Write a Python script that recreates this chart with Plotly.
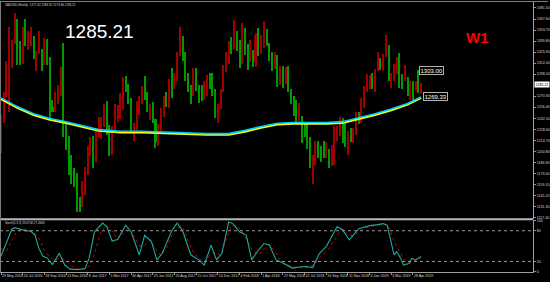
import plotly.graph_objects as go

# ---------------- data ----------------
# weekly bars, index 0 = week of 29 May 2016 ... 155 = week of 19 May 2019
opens = [1216,1243,1275,1298,1322,1340,1366,1327,1323,1351,1335,1336,1341,1321,1327,1328,1310,1337,1316,1257,
         1251,1266,1276,1304,1225,1208,1180,1177,1160,1134,1133,1151,1173,1196,1209,1191,1220,1234,1238,1257,
         1226,1203,1229,1243,1249,1254,1288,1284,1268,1228,1228,1254,1268,1280,1267,1254,1256,1242,1213,1228,
         1255,1269,1258,1289,1285,1292,1325,1346,1320,1297,1280,1274,1304,1280,1272,1269,1275,1295,1288,1280,
         1248,1256,1278,1303,1322,1338,1331,1349,1333,1315,1353,1330,1323,1323,1313,1347,1325,1332,1345,1335,
         1323,1315,1320,1291,1301,1294,1298,1279,1269,1253,1241,1241,1231,1223,1214,1184,1184,1206,1201,1196,
         1194,1200,1191,1203,1219,1227,1234,1233,1209,1223,1222,1222,1248,1238,1257,1280,1287,1290,1282,1303,
         1318,1314,1322,1329,1293,1298,1302,1313,1292,1291,1291,1275,1286,1281,1286,1277]
highs = [1247,1276,1315,1358,1341,1375,1368,1340,1357,1367,1352,1358,1346,1327,1352,1330,1344,1343,1320,1266,
         1275,1284,1307,1338,1236,1220,1196,1180,1174,1143,1163,1181,1207,1219,1220,1226,1244,1244,1260,1264,
         1234,1233,1261,1259,1274,1295,1296,1286,1268,1236,1264,1271,1283,1296,1275,1260,1263,1242,1235,1256,
         1270,1275,1292,1306,1300,1326,1358,1339,1326,1300,1284,1306,1306,1284,1284,1290,1297,1299,1300,1280,
         1260,1279,1310,1326,1340,1345,1366,1353,1341,1362,1356,1336,1341,1329,1350,1356,1347,1365,1355,1338,
         1326,1326,1322,1308,1308,1307,1309,1280,1271,1265,1262,1245,1236,1236,1219,1196,1214,1214,1207,1214,
         1212,1204,1209,1233,1233,1244,1243,1237,1226,1230,1230,1250,1251,1268,1283,1298,1297,1299,1305,1326,
         1319,1324,1347,1335,1300,1311,1320,1325,1298,1310,1294,1289,1289,1290,1303,1287]
lows = [1199,1236,1269,1250,1306,1336,1310,1310,1311,1334,1329,1334,1317,1302,1323,1302,1310,1310,1241,1250,
        1250,1261,1271,1219,1202,1171,1160,1156,1125,1125,1131,1146,1171,1195,1180,1188,1219,1216,1232,1222,
        1195,1196,1227,1238,1241,1253,1275,1260,1226,1214,1229,1247,1260,1266,1250,1240,1236,1205,1208,1227,
        1244,1257,1256,1268,1280,1290,1321,1315,1290,1276,1260,1270,1277,1262,1264,1266,1270,1279,1271,1243,
        1236,1254,1276,1301,1311,1324,1330,1327,1306,1311,1322,1303,1314,1307,1307,1321,1324,1331,1333,1315,
        1302,1304,1282,1284,1281,1286,1275,1261,1246,1237,1238,1211,1219,1204,1180,1160,1183,1193,1187,1192,
        1192,1180,1182,1183,1214,1220,1211,1206,1196,1213,1211,1221,1235,1236,1256,1276,1280,1280,1276,1302,
        1303,1302,1320,1290,1281,1289,1298,1281,1280,1289,1270,1266,1266,1277,1274,1273]
closes = [1243,1275,1298,1322,1340,1366,1327,1323,1351,1335,1336,1341,1321,1327,1328,1310,1337,1316,1257,1251,
          1266,1276,1304,1225,1208,1180,1177,1160,1134,1133,1151,1173,1196,1209,1191,1220,1234,1238,1257,1226,
          1203,1229,1243,1249,1254,1288,1284,1268,1228,1228,1254,1268,1280,1267,1254,1256,1242,1213,1228,1255,
          1269,1258,1289,1285,1292,1325,1346,1320,1297,1280,1274,1304,1280,1272,1269,1275,1295,1288,1280,1248,
          1256,1278,1303,1322,1338,1331,1349,1333,1315,1353,1330,1323,1323,1313,1347,1325,1332,1345,1335,1323,
          1315,1320,1291,1301,1294,1298,1279,1269,1253,1241,1241,1231,1223,1214,1184,1184,1206,1201,1196,1194,
          1200,1191,1203,1219,1227,1234,1233,1209,1223,1222,1222,1248,1238,1257,1280,1287,1290,1282,1303,1318,
          1314,1322,1329,1293,1298,1302,1313,1292,1291,1291,1275,1286,1281,1286,1277,1285.21]

ma_idx = [0,6,12,18,24,30,36,44,52,60,68,76,84,90,96,102,108,114,120,126,132,138,144,150,155]
ma_yellow = [1266.6,1255.6,1246.6,1240.6,1236.6,1231.6,1226.6,1224.6,1224.6,1223.6,1222.6,1221.6,1221.6,1225.6,
             1230.6,1234.6,1235.6,1235.6,1235.6,1236.6,1241.6,1246.6,1252.6,1259.6,1268.2]
ma_cyan = [1268.2,1257.2,1248.2,1242.2,1238.2,1233.2,1228.2,1226.2,1226.2,1225.2,1224.2,1223.2,1223.2,1227.2,
           1232.2,1236.2,1237.2,1237.2,1237.2,1238.2,1243.2,1248.2,1254.2,1261.2,1269.33]

st_main_idx = [0,2,4,5,7,9,11,12.5,14,15.5,17,19,21.5,23.5,25.5,28,31,32.5,34.5,37.5,39,41,43,46,48,51,53,55.5,
               57.5,59.5,63,65,67,70,73,75,77.5,79.5,81.5,84,85.5,88,90.5,92.5,94.5,97,99,101.5,104,107.5,110,
               112.5,115,117.5,120,124,126,128.5,132,136,139,141,142.5,144,145,146,147.5,148.5,150.5,151.5,153,155]
st_main = [30,58,83,86,83,80,79,72,45,30,27,14,36,13,5,4,6,26,78,95,88,60,63,91,78,33,71,59,
           23,36,80,95,80,33,23,13,52,23,36,97,94,78,71,23,39,55,52,23,17,7,9,
           10,8,36,49,88,82,62,84,90,92,94,91,59,33,39,26,13,16,26,23,29.67]
st_sig_idx = [0,2,4,6,8,10,12,14,16,18,20,22,24,26,28,31,33,35,37,39,41,43,45,47,49,51,53,55,57,59,61,63,65,67,
              69,71,73,75,77,79,81,83,85,87,89,91,93,95,97,99,101,103,105,108,111,114,116,118,121,124,126,128,
              130,133,136,139,141,143,145,147,149,151,153,155]
st_sig = [45,40,62,80,84,81,78,65,42,28,22,27,22,11,5,5,13,45,80,91,80,63,75,86,70,50,52,62,45,32,45,70,86,88,
          60,38,26,18,32,38,32,60,90,90,78,58,40,33,45,53,40,22,14,9,8,9,16,30,45,70,84,72,
          70,82,88,91,93,88,60,40,22,17,22,27.46]

tick_idx = [0,8,16,24,32,40,48,56,64,72,80,88,96,104,112,120,128,136,144,152]
tick_text = ["29 May 2016","24 Jul 2016","18 Sep 2016","13 Nov 2016","8 Jan 2017","5 Mar 2017","30 Apr 2017",
             "25 Jun 2017","20 Aug 2017","15 Oct 2017","10 Dec 2017","4 Feb 2018","1 Apr 2018","27 May 2018",
             "22 Jul 2018","16 Sep 2018","11 Nov 2018","6 Jan 2019","3 Mar 2019","28 Apr 2019"]
price_ticks = [1381.50,1367.60,1353.70,1339.80,1325.90,1312.00,1298.10,1270.30,1256.40,1242.50,1228.60,
               1214.70,1200.80,1186.90,1173.00,1159.10,1145.20,1131.30,1117.40]
stoch_ticks = [100,80,20,0]
stoch_levels = [80,20]
current_price = 1285.21
marker_high = 1303.00
marker_ma = 1269.33

# ---------------- figure ----------------
W, H = 550, 282
FONT = "Liberation Sans"
UP, DOWN = "#A00000", "#009A00"   # rising weeks drawn red, falling weeks green
bars = list(range(len(closes)))
colors = [UP if c >= o else DOWN for o, c in zip(opens, closes)]
body_base = [min(o, c) for o, c in zip(opens, closes)]
body_len = [max(abs(c - o), 0.8) for o, c in zip(opens, closes)]
wick_len = [h - l for h, l in zip(highs, lows)]

fig = go.Figure()
fig.add_trace(go.Bar(x=bars, y=wick_len, base=lows, width=0.38, marker=dict(color=colors, line=dict(width=0)),
                     xaxis="x", yaxis="y", showlegend=False))
fig.add_trace(go.Bar(x=bars, y=body_len, base=body_base, width=0.74, marker=dict(color=colors, line=dict(width=0)),
                     xaxis="x", yaxis="y", showlegend=False))
fig.add_trace(go.Scatter(x=ma_idx, y=ma_yellow, mode="lines", line=dict(color="#FFFF00", width=2.0),
                         xaxis="x", yaxis="y", showlegend=False))
fig.add_trace(go.Scatter(x=ma_idx, y=ma_cyan, mode="lines", line=dict(color="#00CCFF", width=1.6),
                         xaxis="x", yaxis="y", showlegend=False))
fig.add_trace(go.Scatter(x=st_sig_idx, y=st_sig, mode="lines", line=dict(color="#D00000", width=1, dash="dot"),
                         xaxis="x", yaxis="y2", showlegend=False))
fig.add_trace(go.Scatter(x=st_main_idx, y=st_main, mode="lines", line=dict(color="#20A8A0", width=1.1),
                         xaxis="x", yaxis="y2", showlegend=False))

def py(p):  # pixel y -> paper fraction
    return 1 - p / H

x_right = 535 / W
fig.update_layout(
    width=W, height=H, margin=dict(l=0, r=0, t=0, b=0),
    paper_bgcolor="#000000", plot_bgcolor="#000000", barmode="overlay", bargap=0,
    font=dict(family=FONT, color="#D8D8D8", size=4),
    xaxis=dict(domain=[0, x_right], range=[-0.37, 196.3], anchor="y2",
               showgrid=False, zeroline=False,
               tickmode="array", tickvals=tick_idx, ticktext=tick_text, tickangle=0,
               ticks="outside", ticklen=2, tickcolor="#909090",
               ticklabelposition="outside right",
               tickfont=dict(size=3.6, color="#D8D8D8", family=FONT),
               showline=True, linecolor="#A0A0A0", linewidth=1),
    yaxis=dict(domain=[py(220), py(1)], range=[1115.96, 1389.05], side="right", anchor="x",
               showgrid=False, zeroline=False, tickmode="array", tickvals=price_ticks,
               ticktext=[f"{v:.2f}" for v in price_ticks], ticks="outside", ticklen=2,
               tickcolor="#909090", tickfont=dict(size=3.6, color="#D8D8D8", family=FONT),
               showline=True, linecolor="#A0A0A0", linewidth=1),
    yaxis2=dict(domain=[py(274), py(221)], range=[-0.8, 101.7], side="right", anchor="x",
                showgrid=False, zeroline=False, tickmode="array", tickvals=stoch_ticks,
                ticktext=[str(v) for v in stoch_ticks], ticks="outside", ticklen=2,
                tickcolor="#909090", tickfont=dict(size=3.6, color="#D8D8D8", family=FONT),
                showline=True, linecolor="#A0A0A0", linewidth=1),
)

shapes = []
for lv in stoch_levels:
    shapes.append(dict(type="line", xref="x domain", yref="y2", x0=0, x1=1, y0=lv, y1=lv,
                       line=dict(color="#9A9A9A", width=1, dash="dot")))
shapes.append(dict(type="line", xref="paper", yref="paper", x0=0, x1=x_right, y0=py(220.5), y1=py(220.5),
                   line=dict(color="#B8B8B8", width=2)))
shapes.append(dict(type="line", xref="paper", yref="paper", x0=0, x1=1, y0=py(0.5), y1=py(0.5),
                   line=dict(color="#808080", width=1)))
shapes.append(dict(type="line", xref="paper", yref="paper", x0=0.5 / W, x1=0.5 / W, y0=py(274), y1=py(0),
                   line=dict(color="#808080", width=1)))
fig.update_layout(shapes=shapes)

ann = []
ann.append(dict(text="XAUUSD,Weekly  1277.42 1286.92 1273.66 1285.21", xref="paper", yref="paper",
                x=3 / W, y=py(4), xanchor="left", yanchor="middle", showarrow=False,
                font=dict(size=3, color="#D8D8D8", family=FONT)))
ann.append(dict(text=f"{current_price:.2f}", xref="paper", yref="paper", x=100 / W, y=py(31),
                xanchor="center", yanchor="middle", showarrow=False,
                font=dict(size=19, color="#FFFFFF", family=FONT)))
ann.append(dict(text="<b>W1</b>", xref="paper", yref="paper", x=479 / W, y=py(37),
                xanchor="center", yanchor="middle", showarrow=False,
                font=dict(size=15, color="#FF0000", family=FONT)))
ann.append(dict(text="Stoch(5,3,3) 29.6708 27.4609", xref="paper", yref="paper", x=3 / W, y=py(224.5),
                xanchor="left", yanchor="middle", showarrow=False,
                font=dict(size=3, color="#D8D8D8", family=FONT)))
for val, xi in [(marker_high, 154.4), (marker_ma, 155.6)]:
    ann.append(dict(text=f"{val:.2f}", xref="x", yref="y", x=xi, y=val, xanchor="left", yanchor="middle",
                    showarrow=False, bgcolor="#000000", bordercolor="#B0B0B0", borderwidth=1, borderpad=0.5,
                    font=dict(size=6, color="#FFFFFF", family=FONT)))
ann.append(dict(text=f"{current_price:.2f}", xref="paper", yref="y", x=536 / W, y=current_price,
                xanchor="left", yanchor="middle", showarrow=False, bgcolor="#FFFFFF", borderpad=0.5,
                font=dict(size=3.6, color="#000000", family=FONT)))
fig.update_layout(annotations=ann)

fig.write_html("out.html")
